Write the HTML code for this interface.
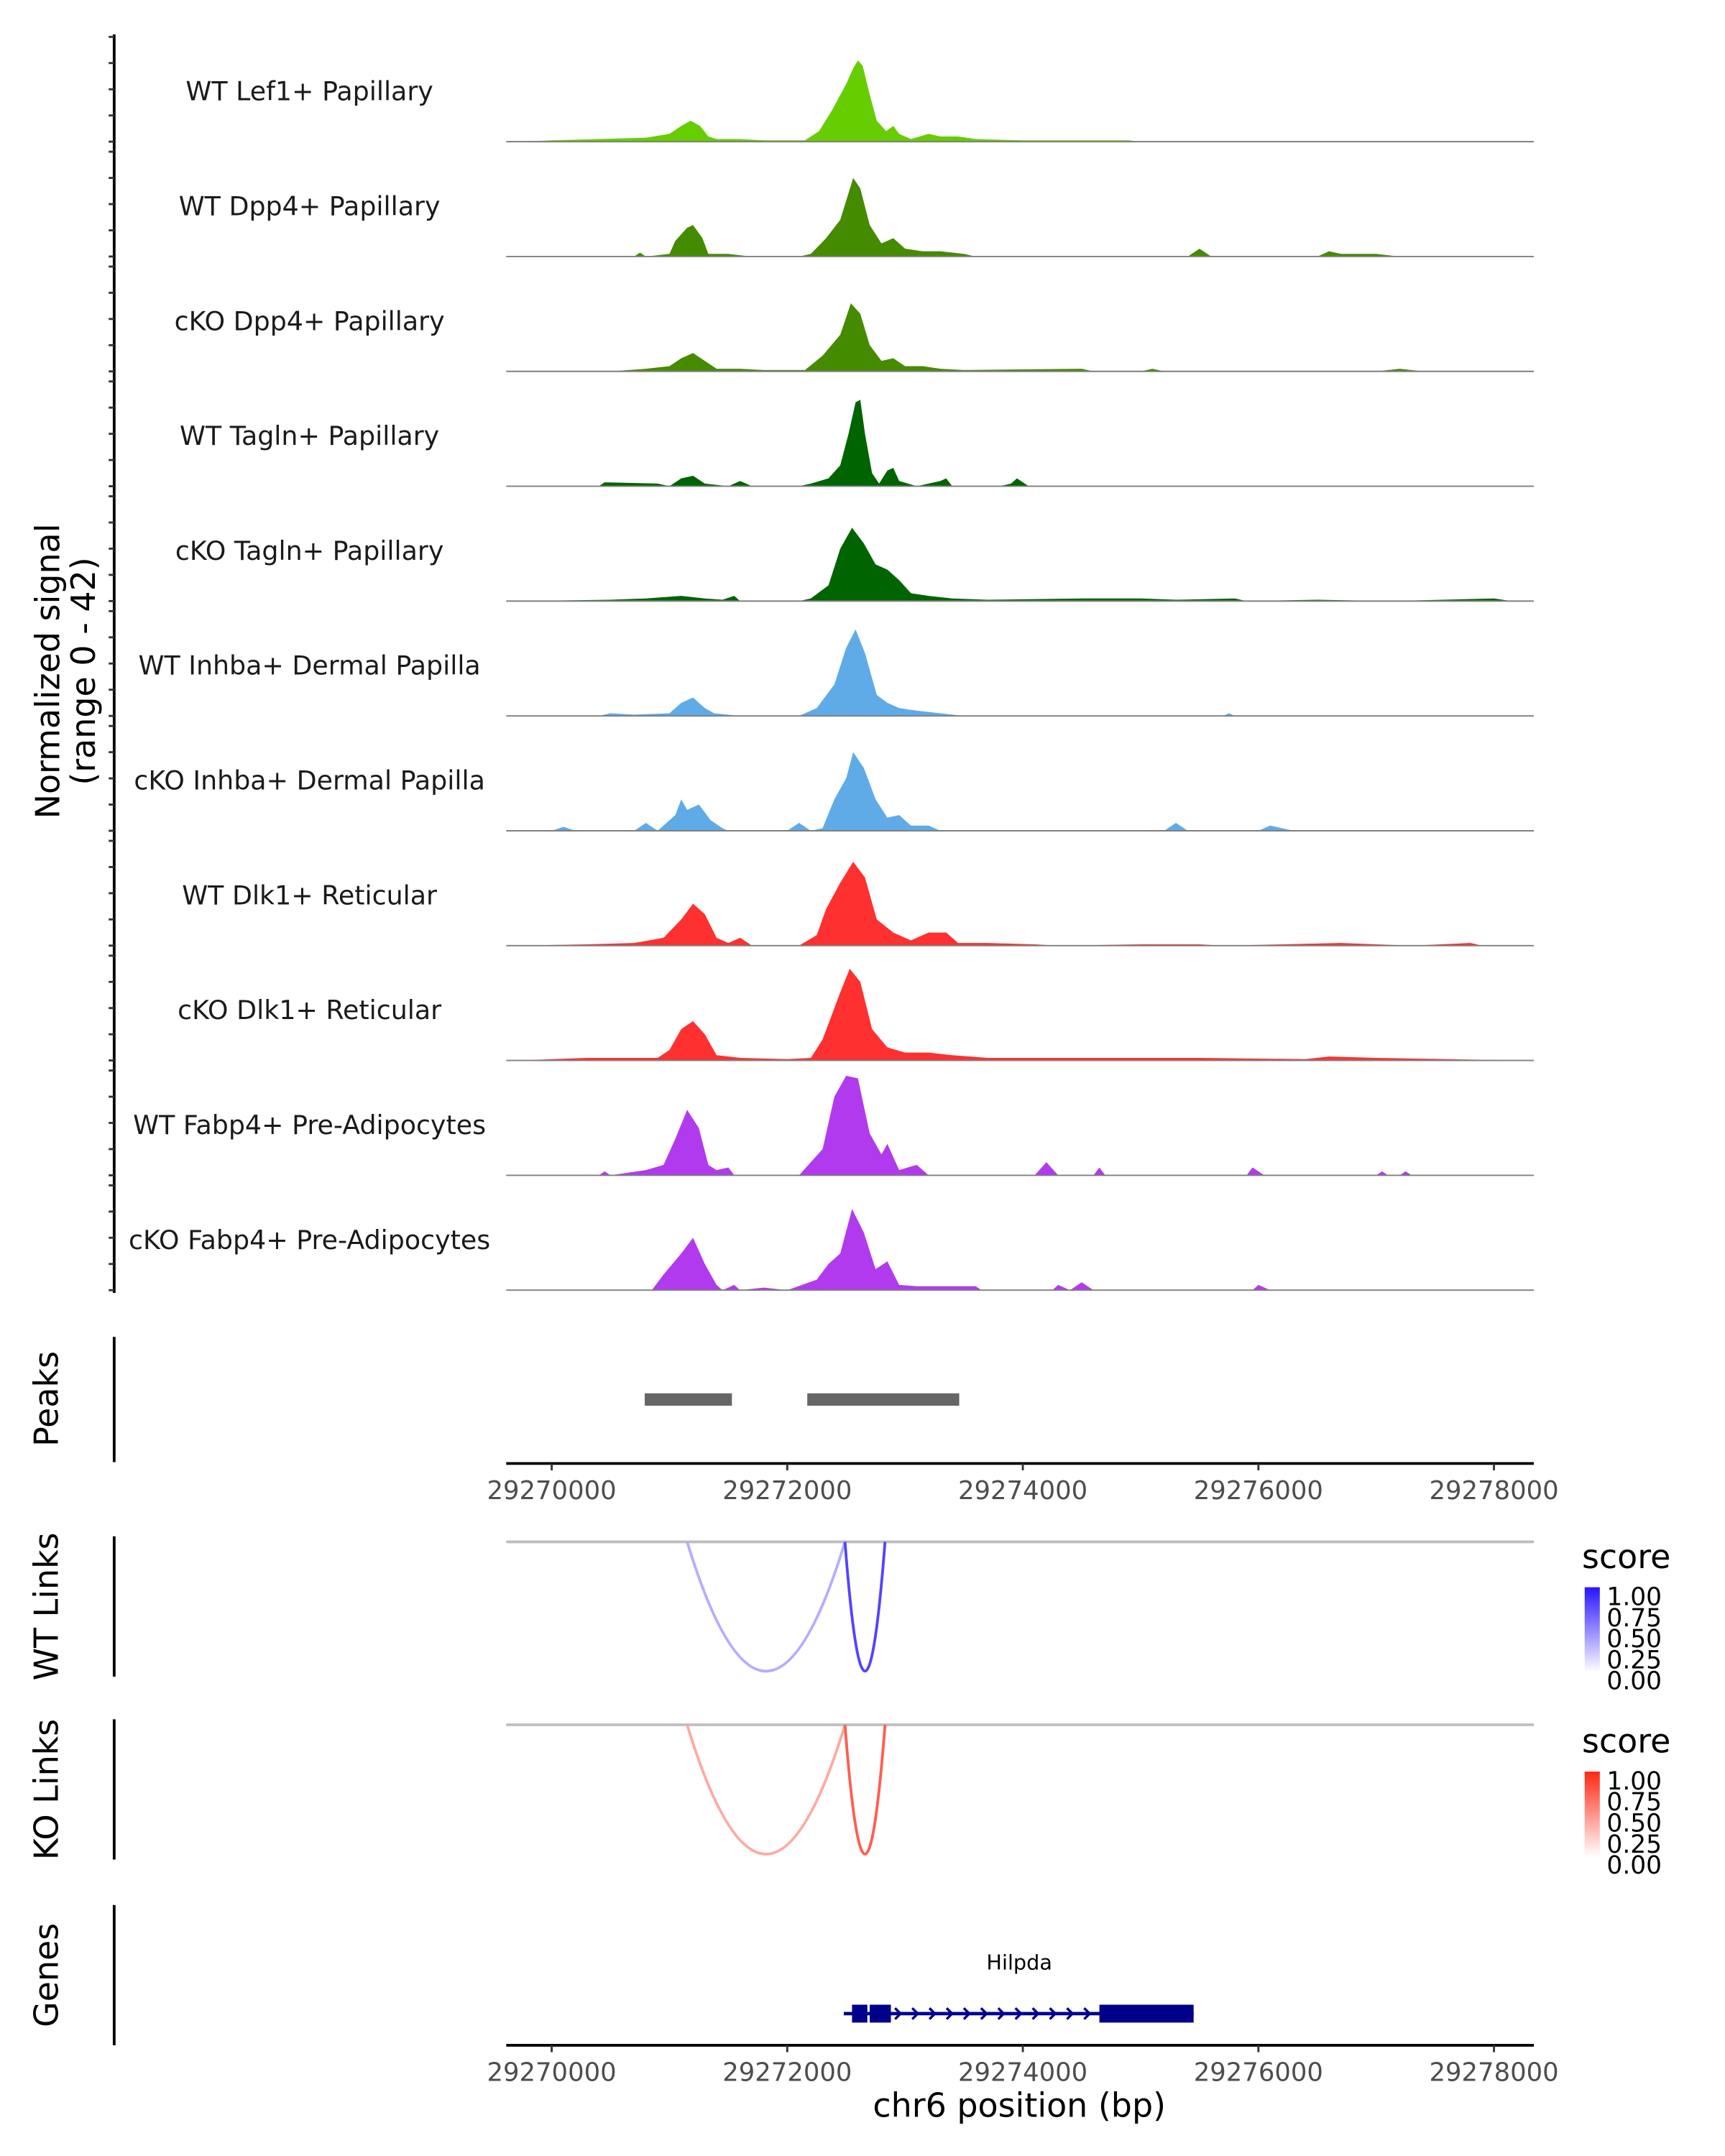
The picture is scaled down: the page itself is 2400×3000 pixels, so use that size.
<!DOCTYPE html>
<html><head><meta charset="utf-8"><style>
html,body{margin:0;padding:0;background:#fff}
svg{display:block}
text{font-family:"DejaVu Sans","Liberation Sans",sans-serif}
</style></head><body>
<svg id="chart" xmlns="http://www.w3.org/2000/svg" width="2400" height="3000" viewBox="0 0 1254 1567.5">
<rect width="1254" height="1567.5" fill="#fff"/>
<g id="tracks"></g>
<g id="peaks"></g>
<g id="links"></g>
<g id="genes"></g>
</svg>
<script>
const ORIGIN = 29270000;
const trackNames = ["WT Lef1+ Papillary","WT Dpp4+ Papillary","cKO Dpp4+ Papillary","WT Tagln+ Papillary","cKO Tagln+ Papillary","WT Inhba+ Dermal Papilla","cKO Inhba+ Dermal Papilla","WT Dlk1+ Reticular","cKO Dlk1+ Reticular","WT Fabp4+ Pre-Adipocytes","cKO Fabp4+ Pre-Adipocytes"];
const trackColors = ["#66cd00","#458b00","#458b00","#006400","#006400","#5fabe8","#5fabe8","#ff3030","#ff3030","#b23aee","#b23aee"];
const sigLef1WT = [[-300,0],[0,0.5],[400,1],[800,1.5],[1000,3],[1100,6],[1180,8],[1260,6],[1330,2],[1400,1],[1600,1],[1800,0.5],[2150,0.5],[2270,4],[2380,12],[2500,22],[2560,28],[2600,31],[2640,29],[2700,18],[2760,8],[2840,4],[2900,6],[2950,3],[3050,1],[3200,3],[3300,2],[3450,2],[3600,1],[4000,0.5],[4900,0.5],[5000,0],[8300,0]];
const sigDpp4WT = [[-300,0],[700,0],[750,1.5],[800,0],[1000,1],[1050,6],[1150,11],[1200,12],[1280,7],[1330,1],[1500,1],[1700,0],[2100,0],[2200,1],[2330,7],[2450,14],[2560,30],[2620,26],[2700,12],[2800,5],[2900,7],[3000,3],[3150,2],[3300,2],[3500,1],[3600,0],[5400,0],[5500,3],[5600,0],[6500,0],[6600,2],[6700,1],[7000,1],[7200,0],[8300,0]];
const sigDpp4KO = [[-300,0],[500,0],[800,1],[1000,2],[1100,5],[1200,7],[1300,4],[1400,1],[1600,1],[1800,0.5],[2150,0.5],[2300,6],[2450,14],[2540,26],[2620,22],[2700,10],[2800,4],[2900,5],[3000,2],[3150,2],[3300,1],[3500,0.5],[4500,1],[4600,0],[5000,0],[5100,1],[5200,0],[7000,0],[7200,1],[7400,0],[8300,0]];
const sigTaglnWT = [[-300,0],[400,0],[450,1.5],[900,1],[1000,0],[1100,3],[1200,4],[1300,1],[1500,0],[1600,2],[1700,0],[2100,0],[2200,1],[2350,3],[2450,8],[2520,20],[2580,32],[2620,33],[2660,20],[2720,5],[2780,1],[2850,6],[2900,7],[2950,2],[3100,0],[3300,2],[3350,3],[3400,0],[3800,0],[3900,1],[3950,3],[4050,0],[8300,0]];
const sigTaglnKO = [[-300,0],[500,0.5],[800,1],[1100,2],[1300,1],[1450,0.5],[1550,2],[1600,0],[2100,0],[2200,1],[2350,6],[2450,20],[2550,28],[2650,22],[2750,14],[2850,12],[2950,8],[3050,3],[3200,2],[3400,1],[3700,0.5],[4500,1],[5000,1],[5300,0.5],[5800,1],[5900,0],[6500,0.5],[7100,0],[8000,1],[8150,0],[8300,0]];
const sigInhbaWT = [[-300,0],[400,0],[500,1],[700,0.5],[1000,1],[1100,5],[1200,7],[1300,3],[1380,1],[1600,0],[2100,0],[2250,3],[2400,12],[2500,26],[2580,33],[2660,24],[2760,8],[2850,5],[2950,3],[3100,2],[3300,1],[3500,0],[5700,0],[5750,1],[5800,0],[8300,0]];
const sigInhbaKO = [[-300,0],[0,0],[100,1.5],[200,0],[700,0],[800,3],[900,0],[1050,6],[1100,12],[1150,8],[1250,10],[1350,4],[1450,1],[1500,0],[2000,0],[2100,3],[2200,0],[2300,1],[2400,12],[2500,20],[2560,30],[2650,24],[2750,12],[2850,5],[2950,6],[3050,2],[3200,2],[3300,0],[5200,0],[5300,3],[5400,0],[6000,0],[6100,2],[6300,0],[8300,0]];
const sigDlk1WT = [[-300,0],[300,0.5],[700,1],[950,3],[1100,10],[1200,16],[1300,12],[1400,3],[1500,1],[1600,3],[1700,0],[2100,0],[2250,4],[2330,14],[2450,24],[2560,32],[2660,26],[2760,10],[2900,5],[3050,2],[3200,5],[3350,5],[3450,1],[3700,1],[4100,0.5],[4300,0],[5000,0.5],[5500,0.5],[5700,0],[6700,1],[7000,0.5],[7300,0],[7800,1],[7900,0],[8300,0]];
const sigDlk1KO = [[-300,0],[300,1],[900,1],[1000,4],[1100,12],[1200,15],[1300,10],[1400,2],[1600,1],[2000,0.5],[2200,1],[2300,8],[2450,26],[2530,35],[2620,30],[2720,12],[2850,5],[3000,3],[3200,3],[3400,2],[3700,1],[4500,1],[5500,1],[6400,0.5],[6600,1.5],[7000,1],[7600,0.5],[8300,0]];
const sigFabp4WT = [[-300,0],[400,0],[450,1.5],[500,0],[800,2],[950,4],[1050,14],[1150,25],[1250,18],[1330,4],[1400,2],[1500,3],[1550,0],[2100,0],[2200,5],[2300,10],[2400,30],[2500,38],[2600,37],[2700,16],[2800,8],[2850,12],[2950,2],[3100,4],[3200,0],[4100,0],[4200,5],[4300,0],[4600,0],[4650,3],[4700,0],[5900,0],[5950,3],[6050,0],[7000,0],[7050,1.5],[7100,0],[7200,0],[7250,1.5],[7300,0],[8300,0]];
const sigFabp4KO = [[-300,0],[850,0],[950,6],[1100,14],[1200,20],[1300,10],[1400,2],[1450,0],[1550,2],[1600,0],[1800,1],[2000,0],[2250,4],[2350,10],[2450,14],[2550,31],[2650,22],[2750,8],[2850,11],[2950,2],[3100,1.5],[3600,1.5],[3650,0],[4250,0],[4300,2],[4400,0],[4500,3],[4600,0],[5950,0],[6000,2],[6100,0],[8300,0]];
const signals = [sigLef1WT,sigDpp4WT,sigDpp4KO,sigTaglnWT,sigTaglnKO,sigInhbaWT,sigInhbaKO,sigDlk1WT,sigDlk1KO,sigFabp4WT,sigFabp4KO];
const peakStarts = [29270790, 29272170];
const peakEnds = [29271530, 29273460];
const xTicks = [29270000,29272000,29274000,29276000,29278000];
const wtLinkStarts = [29271150, 29272490];
const wtLinkEnds = [29272490, 29272830];
const wtLinkScores = [0.35, 0.8];
const koLinkStarts = [29271150, 29272490];
const koLinkEnds = [29272490, 29272830];
const koLinkScores = [0.4, 0.75];
const legendTicks = ["1.00","0.75","0.50","0.25","0.00"];
const geneName = "Hilpda";
const geneStart = 29272480, geneEnd = 29275450;
const exonStarts = [29272550, 29272700, 29274650];
const exonEnds = [29272680, 29272880, 29275450];

const NS="http://www.w3.org/2000/svg";
const X0=368, X1=1115, BP0=29269614, BP1=29278338;
const xs = bp => X0 + (bp-BP0)/(BP1-BP0)*(X1-X0);
const MAXV=42, TH=83.5, FIRST_BASE=103;
const ys = (i,v) => FIRST_BASE + i*TH - v/MAXV*80;
function mk(tag, attrs, parent){const e=document.createElementNS(NS,tag);for(const k in attrs)e.setAttribute(k,attrs[k]);parent.appendChild(e);return e;}
function txt(parent,x,y,s,size,extra){const t=mk('text',Object.assign({x:x,y:y,'font-size':size,'text-anchor':'middle',fill:'#1a1a1a'},extra||{}),parent);t.textContent=s;return t;}

const gT=document.getElementById('tracks');
const ax=mk('line',{x1:83,y1:25,x2:83,y2:940,stroke:'#000','stroke-width':2},gT);


signals.forEach((s,i)=>{
  [0,10,20,30,40].forEach(v=>{
    const y=ys(i,v);
    const tk=mk('line',{x1:79,y1:y,x2:83,y2:y,stroke:'#333','stroke-width':1.5},gT);
    
    
  });
  let d='M'+xs(ORIGIN+s[0][0])+','+ys(i,0);
  s.forEach(p=>{d+=' L'+xs(ORIGIN+p[0]).toFixed(2)+','+ys(i,p[1]).toFixed(2);});
  d+=' L'+xs(ORIGIN+s[s.length-1][0])+','+ys(i,0)+' Z';
  const a=mk('path',{d:d,fill:trackColors[i]},gT);
  
  
  const b=mk('line',{x1:X0,y1:ys(i,0),x2:X1,y2:ys(i,0),stroke:'#7f7f7f','stroke-width':1},gT);
  
  
  const l=txt(gT,225,ys(i,0)-30,trackNames[i],19);
  
  
});
const yt=mk('text',{x:0,y:0,'font-size':24,'text-anchor':'middle',fill:'#000',transform:'translate(43,488) rotate(-90)'},gT);


const ts1=mk('tspan',{x:0,dy:0},yt); ts1.textContent='Normalized signal';
const ts2=mk('tspan',{x:0,dy:26},yt); ts2.textContent='(range 0 - 42)';

function sideTitle(parent,y,s,name){const t=mk('text',{x:0,y:0,'font-size':24,'text-anchor':'middle',fill:'#000',transform:'translate(42,'+y+') rotate(-90)'},parent);t.textContent=s;
 
 }
function sideAxis(parent,y1,y2){const l=mk('line',{x1:83,y1:y1,x2:83,y2:y2,stroke:'#000','stroke-width':2},parent);
 
 }
function xAxis(parent,y){
  const l=mk('line',{x1:X0,y1:y,x2:X1,y2:y,stroke:'#000','stroke-width':2},parent);
  
  
  xTicks.forEach(t=>{
    const tk=mk('line',{x1:xs(t),y1:y,x2:xs(t),y2:y+5,stroke:'#333','stroke-width':1.5},parent);
    
    
    const lb=txt(parent,xs(t),y+26,String(t),18.5,{fill:'#4d4d4d'});
    
    
  });
}
const gP=document.getElementById('peaks');
sideAxis(gP,972,1063); sideTitle(gP,1017,'Peaks','peaks-title');
peakStarts.forEach((s,i)=>{
  const r=mk('rect',{x:xs(s),y:1013,width:xs(peakEnds[i])-xs(s),height:9,fill:'#666'},gP);
  
  
});
xAxis(gP,1064);
const gL=document.getElementById('links');
function mix(c,s){return 'rgb('+c.map(v=>Math.round(255+(v-255)*s)).join(',')+')';}
function linkTrack(top,starts,ends,scores,base,title,name,legY,gradId){
  sideAxis(gL,top-4,top+98); sideTitle(gL,top+47,title,name+'-title');
  const bl=mk('line',{x1:X0,y1:top,x2:X1,y2:top,stroke:'#bebebe','stroke-width':2},gL);
  
  
  starts.forEach((s,i)=>{
    const a=xs(s), b=xs(ends[i]), depth=94;
    const p=mk('path',{d:'M'+a+','+top+' Q'+((a+b)/2)+','+(top+depth*2)+' '+b+','+top,fill:'none',stroke:mix(base,scores[i]),'stroke-width':2},gL);
    
    
  });
  const defs=mk('defs',{},gL);
  const lg=mk('linearGradient',{id:gradId,x1:0,y1:1,x2:0,y2:0},defs);
  mk('stop',{offset:0,'stop-color':'#fff'},lg);
  mk('stop',{offset:1,'stop-color':mix(base,1)},lg);
  const st=txt(gL,1150,legY,'score',24,{'text-anchor':'start',fill:'#000'});
  
  
  const cb=mk('rect',{x:1152,y:legY+14,width:11,height:62,fill:'url(#'+gradId+')'},gL);
  
  
  legendTicks.forEach((t,i)=>{
    const lb=txt(gL,1168,legY+27+i*15.3,t,18,{'text-anchor':'start',fill:'#000'});
    
    
  });
}
linkTrack(1121,wtLinkStarts,wtLinkEnds,wtLinkScores,[40,20,255],'WT Links','wt-links',1140,'gWT');
linkTrack(1254,koLinkStarts,koLinkEnds,koLinkScores,[255,40,20],'KO Links','ko-links',1274,'gKO');
const gG=document.getElementById('genes');
sideAxis(gG,1385,1487); sideTitle(gG,1436,'Genes','genes-title');
const gl=txt(gG,741,1432,geneName,15,{fill:'#000'});


const gline=mk('line',{x1:xs(geneStart),y1:1464,x2:xs(geneEnd),y2:1464,stroke:'#00008b','stroke-width':2.5},gG);


exonStarts.forEach((s,i)=>{
  const r=mk('rect',{x:xs(s),y:1457.5,width:xs(exonEnds[i])-xs(s),height:13,fill:'#00008b'},gG);
  
  
});
for(let x=xs(exonEnds[1])+6;x<xs(exonStarts[2])-4;x+=12.5){
  const c=mk('path',{d:'M'+(x-3)+',1460 L'+(x+1)+',1464 L'+(x-3)+',1468',fill:'none',stroke:'#00008b','stroke-width':1.8},gG);
  
  
}
xAxis(gG,1487);
const xt=txt(gG,741,1539,'chr6 position (bp)',24,{fill:'#000'});


</script>
</body></html>
